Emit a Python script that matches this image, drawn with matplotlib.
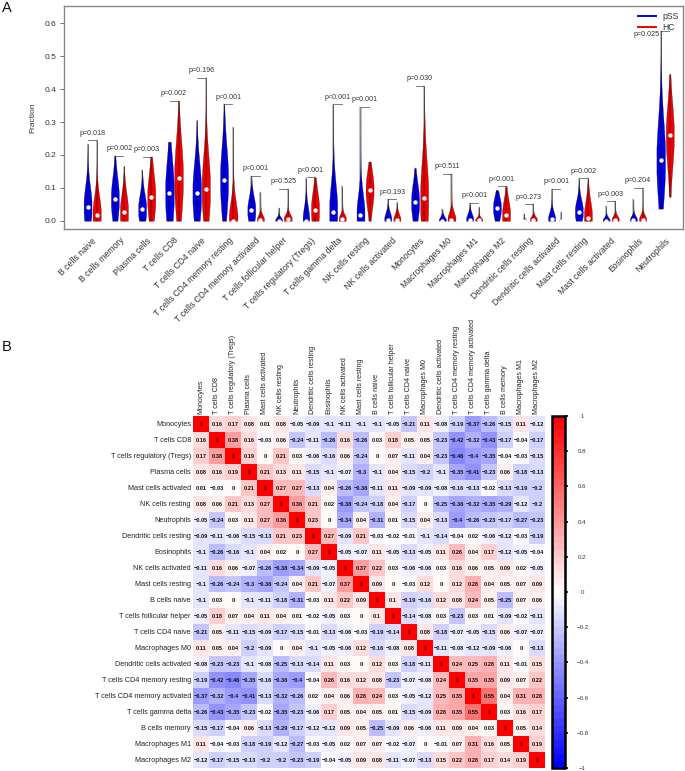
import matplotlib
matplotlib.use('Agg')
import matplotlib.pyplot as plt
from matplotlib.colors import LinearSegmentedColormap
from matplotlib.patches import Rectangle
import numpy as np

plt.rcParams['font.family'] = ['Liberation Sans', 'DejaVu Sans']

W, H = 685, 771

# Panel A: violin summary values
cells = ['B cells naive', 'B cells memory', 'Plasma cells', 'T cells CD8', 'T cells CD4 naive',
         'T cells CD4 memory resting', 'T cells CD4 memory activated', 'T cells follicular helper',
         'T cells regulatory (Tregs)', 'T cells gamma delta', 'NK cells resting', 'NK cells activated',
         'Monocytes', 'Macrophages M0', 'Macrophages M1', 'Macrophages M2', 'Dendritic cells resting',
         'Dendritic cells activated', 'Mast cells resting', 'Mast cells activated', 'Eosinophils', 'Neutrophils']
p_values = ['p=0.018', 'p=0.002', 'p=0.003', 'p=0.002', 'p=0.196', 'p<0.001', 'p<0.001', 'p=0.525', 'p<0.001',
            'p<0.001', 'p<0.001', 'p=0.193', 'p=0.030', 'p=0.511', 'p<0.001', 'p<0.001', 'p=0.273', 'p<0.001',
            'p=0.002', 'p=0.003', 'p=0.204', 'p=0.025']

pss_top = [.233, .198, .155, .24, .305, .355, .137, .04, .13, .355, .347, .066, .16, .036, .055, .093, .022, .097,
           .129, .044, .065, .578]
pss_med = [.043, .067, .035, .085, .085, .125, .032, 0, 0, .028, .017, .003, .058, 0, .003, .04, 0, .004, .028, 0,
           .002, .185]
pss_spread = [.06, .065, .045, .1, .09, .1, .04, .01, .04, .08, .06, .022, .055, .012, .018, .035, .005, .022, .035,
              .01, .012, .12]
pss_hw = [3.6, 3.6, 3.6, 3.9, 3.9, 3.6, 3.6, 3.2, 3, 3.6, 3.6, 3.2, 3.6, 3.2, 3.2, 3.6, 1.5, 3.2, 3.6, 3.2, 3.2, 3.9]
pss_low = [0, 0, 0, 0, 0, 0, 0, 0, 0, 0, 0, 0, 0, 0, 0, 0, 0, 0, 0, 0, 0, .037]

hc_top = [.245, .165, .195, .365, .435, .285, .087, .098, .132, .105, .18, .056, .41, .143, .042, .105, .05, .027,
          .129, .059, .1, .445]
hc_med = [.017, .027, .072, .13, .097, 0, .003, .005, .034, .005, .095, .002, .068, .003, .002, .017, .003, 0,
          .009, .003, .003, .26]
hc_spread = [.055, .055, .07, .11, .1, .055, .014, .014, .055, .014, .055, .018, .11, .022, .008, .045, .01, .003, .05,
             .012, .014, .095]
hc_hw = [3.7, 3.6, 3.6, 3.9, 3.7, 3.9, 3.2, 3.6, 3.6, 3.2, 3.6, 3.2, 3.6, 3.6, 3.2, 3.6, 3.2, 1.5, 3.6, 3.2, 3.2, 3.6]
hc_low = [0, 0, 0, 0, 0, 0, 0, 0, 0, 0, 0, 0, 0, 0, 0, 0, 0, 0, 0, 0, 0, .073]

# Panel B: correlation matrix, read row by row
corr_labels = ['Monocytes', 'T cells CD8', 'T cells regulatory (Tregs)', 'Plasma cells', 'Mast cells activated',
               'NK cells resting', 'Neutrophils', 'Dendritic cells resting', 'Eosinophils', 'NK cells activated',
               'Mast cells resting', 'B cells naive', 'T cells follicular helper', 'T cells CD4 naive',
               'Macrophages M0', 'Dendritic cells activated', 'T cells CD4 memory resting',
               'T cells CD4 memory activated', 'T cells gamma delta', 'B cells memory', 'Macrophages M1',
               'Macrophages M2']
corr = [
    [1, .16, .17, .08, .01, .08, -.05, -.09, -.1, -.11, -.1, -.1, -.05, -.21, .11, -.08, -.19, -.37, -.26, -.15, .11, -.12],
    [.16, 1, .38, .16, -.03, .06, -.24, -.11, -.26, .16, -.26, .03, .18, .05, .05, -.23, -.42, -.32, -.43, -.17, -.04, -.17],
    [.17, .38, 1, .19, 0, .21, .03, -.06, -.16, .06, -.24, 0, .07, -.11, .04, -.23, -.46, -.4, -.35, -.04, -.03, -.15],
    [.08, .16, .19, 1, .21, .13, .11, -.15, -.1, -.07, -.3, -.1, .04, -.15, -.2, -.1, -.35, -.41, -.23, .06, -.18, -.13],
    [.01, -.03, 0, .21, 1, .27, .27, -.13, .04, -.26, -.36, -.11, .11, -.09, -.09, -.08, -.16, -.13, -.02, -.13, -.19, -.2],
    [.08, .06, .21, .13, .27, 1, .36, .21, .02, -.38, -.24, -.18, .04, -.17, 0, -.25, -.36, -.32, -.35, -.29, -.12, -.2],
    [-.05, -.24, .03, .11, .27, .36, 1, .23, 0, -.34, .04, -.31, .01, -.15, .04, -.13, -.4, -.26, -.23, -.17, -.27, -.23],
    [-.09, -.11, -.06, -.15, -.13, .21, .23, 1, .27, -.09, .21, -.03, -.02, -.01, -.1, -.14, -.04, .02, -.06, -.12, -.03, -.19],
    [-.1, -.26, -.16, -.1, .04, .02, 0, .27, 1, -.05, -.07, .11, -.05, -.13, -.05, .11, .26, .04, .17, -.12, -.05, -.04],
    [-.11, .16, .06, -.07, -.26, -.38, -.34, -.09, -.05, 1, .37, .22, .03, -.06, -.06, .03, .16, .06, .05, .09, .02, -.05],
    [-.1, -.26, -.24, -.3, -.36, -.24, .04, .21, -.07, .37, 1, .09, 0, -.03, .12, 0, .12, .28, .04, .05, .07, .09],
    [-.1, .03, 0, -.1, -.11, -.18, -.31, -.03, .11, .22, .09, 1, .1, -.19, -.16, .12, .08, .24, .05, -.25, .07, .06],
    [-.05, .18, .07, .04, .11, .04, .01, -.02, -.05, .03, 0, .1, 1, -.14, -.08, .03, -.23, .03, .01, -.09, -.02, -.11],
    [-.21, .05, -.11, -.15, -.09, -.17, -.15, -.01, -.13, -.06, -.03, -.19, -.14, 1, .08, -.18, -.07, -.05, -.15, .06, -.07, -.07],
    [.11, .05, .04, -.2, -.09, 0, .04, -.1, -.05, -.06, .12, -.16, -.08, .08, 1, -.11, -.08, -.12, -.09, -.06, 0, -.13],
    [-.08, -.23, -.23, -.1, -.08, -.25, -.13, -.14, .11, .03, 0, .12, .03, -.18, -.11, 1, .24, .25, .28, .11, -.01, .15],
    [-.19, -.42, -.46, -.35, -.16, -.36, -.4, -.04, .26, .16, .12, .08, -.23, -.07, -.08, .24, 1, .35, .35, .09, .07, .22],
    [-.37, -.32, -.4, -.41, -.13, -.32, -.26, .02, .04, .06, .28, .24, .03, -.05, -.12, .25, .35, 1, .55, .04, .31, .28],
    [-.26, -.43, -.35, -.23, -.02, -.35, -.23, -.06, .17, .05, .04, .05, .01, -.15, -.09, .28, .35, .55, 1, .03, .16, .17],
    [-.15, -.17, -.04, .06, -.13, -.29, -.17, -.12, -.12, .09, .05, -.25, -.09, .06, -.06, .11, .09, .04, .03, 1, .05, .14],
    [.11, -.04, -.03, -.18, -.19, -.12, -.27, -.03, -.05, .02, .07, .07, -.02, -.07, 0, -.01, .07, .31, .16, .05, 1, .19],
    [-.12, -.17, -.15, -.13, -.2, -.2, -.23, -.19, -.04, -.05, .09, .08, -.11, -.07, -.13, .15, .22, .28, .17, .14, .19, 1],
]
cbar_ticks = [-1, -.8, -.6, -.4, -.2, 0, .2, .4, .6, .8, 1]


def px_axes(left, top, right, bottom):
    return fig.add_axes([left / W, 1 - bottom / H, (right - left) / W, (bottom - top) / H])


def draw_violin(ax, x, low, med, top, spread, hw, color, clip):
    # density-like outline: a belly at the median plus a thin tail up to the max
    y = np.linspace(low, top, 300)
    hw = 1.1 * hw / 27.3
    w = hw * np.exp(-0.5 * ((y - med) / spread) ** 2) + 0.06 * hw * (top - y) / (top - low)
    w = np.minimum(w, hw)
    ax.fill_betweenx(y, x - w, x + w, facecolor=color, edgecolor='#111111', linewidth=0.2, zorder=2)
    ax.plot([x, x], [low, top], color='black', lw=0.35, zorder=3)
    dot = ax.scatter([x], [med], s=10, color='white', linewidths=0, zorder=4)
    dot.set_clip_path(clip)


fig = plt.figure(figsize=(W / 100, H / 100), dpi=100)

# ---- Panel A ----
ax = px_axes(64, 6, 683, 229)
ax.set_xlim(-0.03, 22.65)
ax.set_ylim(-0.025, 0.6526)
clip = Rectangle((-1, 0), 30, 1, transform=ax.transData)

offset = 4.55 / 27.3
for i in range(len(cells)):
    x = i + 1
    draw_violin(ax, x - offset, pss_low[i], pss_med[i], pss_top[i], pss_spread[i], pss_hw[i], '#0000e6', clip)
    draw_violin(ax, x + offset, hc_low[i], hc_med[i], hc_top[i], hc_spread[i], hc_hw[i], '#f00000', clip)

    # bracket sits on the taller violin, p value above it
    bracket = max(pss_top[i], hc_top[i])
    ax.plot([x - offset * 0.85, x + offset * 0.85], [bracket, bracket], color='#666666', lw=0.6, zorder=1)
    if i == len(cells) - 1:
        ax.text(x - 0.68, bracket - 0.012, p_values[i], ha='center', va='center', fontsize=5.1, color='#333333')
    else:
        ax.text(x, bracket + 0.021, p_values[i], ha='center', va='center', fontsize=5.1, color='#333333')

ax.set_xticks(range(1, len(cells) + 1))
ax.set_xticklabels(cells, rotation=45, ha='right', rotation_mode='anchor', fontsize=6.2, color='#333333')
ax.tick_params(axis='x', length=0, pad=5)
ax.set_yticks([0, .1, .2, .3, .4, .5, .6])
ax.set_yticklabels(['0.0', '0.1', '0.2', '0.3', '0.4', '0.5', '0.6'], fontsize=6, color='#333333')
ax.tick_params(axis='y', length=3, width=0.6, color='#555555', pad=2.5)
ax.set_ylabel('Fraction', fontsize=6, color='#333333', labelpad=6)
for side in ax.spines.values():
    side.set_color('#888888')
    side.set_linewidth(1)

ax.plot([], [], color='#0000e6', lw=1.4, label='pSS')
ax.plot([], [], color='#f00000', lw=1.4, label='HC')
ax.legend(loc='upper right', frameon=False, fontsize=6.2, handlelength=2, handletextpad=0.8, labelspacing=0.3,
          labelcolor='#333333', bbox_to_anchor=(0.9935, 0.975), borderaxespad=0, borderpad=0)

fig.text(2 / W, 1 - 12.5 / H, 'A', fontsize=10.5, color='#111111')
fig.text(2 / W, 1 - 351 / H, 'B', fontsize=10.5, color='#111111')

# ---- Panel B ----
cmap = LinearSegmentedColormap.from_list('bwr50', ['#0000ff', '#ffffff', '#ff0000'], N=50)
matrix = np.array(corr)
n = len(corr_labels)

hm = px_axes(193, 416, 545, 768)
mesh = hm.pcolormesh(np.arange(n + 1), np.arange(n + 1), matrix, cmap=cmap, vmin=-1, vmax=1)
hm.set_xlim(0, n)
hm.set_ylim(n, 0)
hm.xaxis.tick_top()
hm.set_xticks(np.arange(n) + 0.5)
hm.set_xticklabels(corr_labels, rotation=90, fontsize=5.1, color='#222222')
hm.set_yticks(np.arange(n) + 0.5)
hm.set_yticklabels(corr_labels, fontsize=5.2, color='#222222')
hm.tick_params(length=0, pad=1.5)
for side in hm.spines.values():
    side.set_visible(False)

for r in range(n):
    for c in range(n):
        v = matrix[r, c]
        txt = f'{v:.2f}'.rstrip('0').rstrip('.') if v != 0 else '0'
        txt = txt.replace('-', '\u2212')
        hm.text(c + 0.5, r + 0.52, txt, ha='center', va='center', fontsize=4.1, fontweight='bold', color='#111111')

cax = px_axes(552, 416, 565, 768)
cb = fig.colorbar(mesh, cax=cax, ticks=cbar_ticks)
cb.outline.set_linewidth(1.8)
cb.outline.set_edgecolor('black')
cb.ax.tick_params(length=2.5, width=1.2, color='black', labelsize=4.4, labelcolor='#333333', pad=10)
cb.ax.set_yticklabels(['\u22121', '\u22120.8', '\u22120.6', '\u22120.4', '\u22120.2', '0', '0.2', '0.4', '0.6',
                       '0.8', '1'], ha='center')

fig.savefig('out.png', dpi=100)
